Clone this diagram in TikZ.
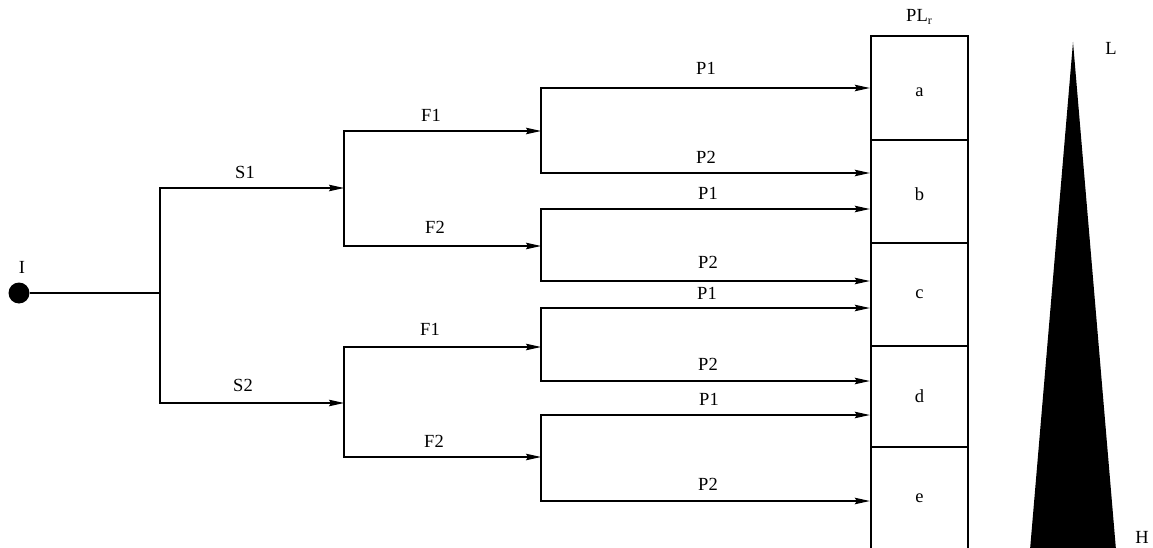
\documentclass[tikz,border=0pt]{standalone}
\usepackage{fontspec}
\setmainfont{Liberation Serif}
\usetikzlibrary{arrows.meta}
\begin{document}
\begin{tikzpicture}[x=1pt,y=-1pt,line width=1.2pt,
  arr/.style={-{Stealth[length=15pt,width=6.5pt,inset=2pt]}},
  lbl/.style={font=\fontsize{18.5}{18.5}\selectfont,inner sep=0pt},
  slot/.style={draw,line width=2.4pt,minimum width=97pt,inner sep=0pt,font=\fontsize{18.5}{18.5}\selectfont},
  low/.style={text height=18pt,text depth=0pt}]
\useasboundingbox (0,0) rectangle (1153,548);
% boxes
\node[slot,low,minimum height=104pt] (a) at (919.5,88) {a};
\node[slot,low,minimum height=103pt] (b) at (919.5,191.5) {b};
\node[slot,minimum height=103pt] (c) at (919.5,294.5) {c};
\node[slot,minimum height=101pt] (d) at (919.5,396.5) {d};
\node[slot,minimum height=103pt] (e) at (919.5,498.5) {e};
\node[lbl] (plr) at (919,17) {PL{\fontsize{12}{12}\selectfont\raisebox{-3pt}{r}}};
% triangle
\fill (1073,42) -- (1116,550) -- (1030,550) -- cycle;
\node[lbl] (L) at (1111,48) {L};
\node[lbl] (H) at (1142,537) {H};
% start
\node[circle,fill,minimum size=21pt,inner sep=0pt] (I) at (19,293) {};
\node[lbl] (Ilbl) at (22,267) {I};
\coordinate (j1) at (160,293);
\coordinate (j2a) at (344,188);
\coordinate (j2b) at (344,403);
\coordinate (j3a) at (541,131);
\coordinate (j3b) at (541,246);
\coordinate (j3c) at (541,347);
\coordinate (j3d) at (541,457);
\draw (I) -- (j1);
\draw[arr] (j1) |- (j2a);
\draw[arr] (j1) |- (j2b);
\node[lbl] at (245,172) {S1};
\node[lbl] at (243,385) {S2};
\draw[arr] (j2a) |- (j3a);
\draw[arr] (j2a) |- (j3b);
\draw[arr] (j2b) |- (j3c);
\draw[arr] (j2b) |- (j3d);
\node[lbl] at (431,115) {F1};
\node[lbl] at (435,227) {F2};
\node[lbl] at (430,329) {F1};
\node[lbl] at (434,441) {F2};
\draw[arr] (j3a) |- (a.west |- 0,88);
\draw[arr] (j3a) |- (b.west |- 0,173);
\draw[arr] (j3b) |- (b.west |- 0,209);
\draw[arr] (j3b) |- (c.west |- 0,281);
\draw[arr] (j3c) |- (c.west |- 0,308);
\draw[arr] (j3c) |- (d.west |- 0,381);
\draw[arr] (j3d) |- (d.west |- 0,415);
\draw[arr] (j3d) |- (e.west |- 0,501);
\node[lbl] at (706,68) {P1};
\node[lbl] at (706,157) {P2};
\node[lbl] at (708,193) {P1};
\node[lbl] at (708,262) {P2};
\node[lbl] at (707,293) {P1};
\node[lbl] at (708,364) {P2};
\node[lbl] at (709,399) {P1};
\node[lbl] at (708,484) {P2};
\end{tikzpicture}
\end{document}
